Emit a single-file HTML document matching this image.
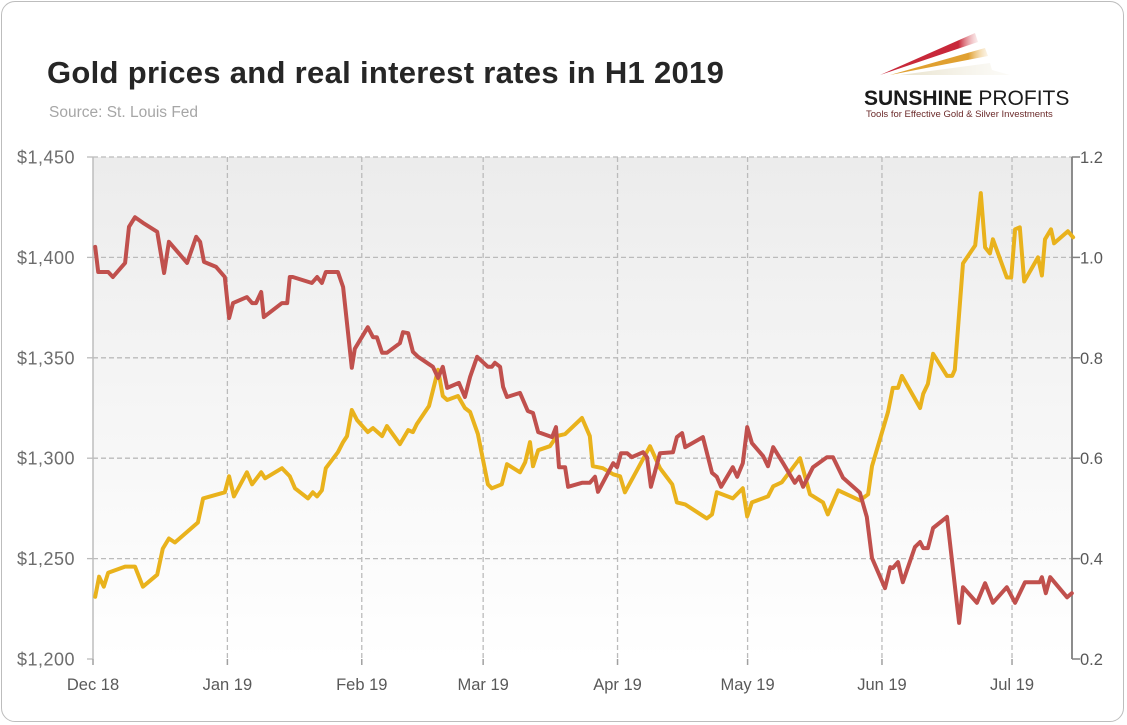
<!DOCTYPE html>
<html><head><meta charset="utf-8">
<style>
html,body{margin:0;padding:0;background:#fff;}
body{width:1127px;height:725px;position:relative;overflow:hidden;font-family:"Liberation Sans",sans-serif;}
#card{position:absolute;left:1px;top:1px;width:1123px;height:721px;border:1px solid #bdbdbd;border-radius:14px;box-sizing:border-box;}
#title{position:absolute;left:47px;top:55px;font-size:31px;font-weight:bold;color:#262626;letter-spacing:0.3px;}
#source{position:absolute;left:49px;top:104px;font-size:15.5px;color:#a6a6a6;}
svg{position:absolute;left:0;top:0;}
</style></head>
<body>
<div id="card"></div>
<div id="title">Gold prices and real interest rates in H1 2019</div>
<div id="source">Source: St. Louis Fed</div>
<svg width="1127" height="725" id="chart">
<defs>
<linearGradient id="bg" x1="0" y1="0" x2="0" y2="1">
<stop offset="0" stop-color="#ececec"/><stop offset="1" stop-color="#ffffff"/>
</linearGradient>
<linearGradient id="fadeR" x1="0" y1="0" x2="1" y2="0"><stop offset="0" stop-color="#c8283a"/><stop offset="0.8" stop-color="#c8283a"/><stop offset="1" stop-color="#f0c0c0" stop-opacity="0.3"/></linearGradient>
<linearGradient id="fadeY" x1="0" y1="0" x2="1" y2="0"><stop offset="0" stop-color="#e0a030"/><stop offset="0.8" stop-color="#e0a030"/><stop offset="1" stop-color="#f5dcb0" stop-opacity="0.3"/></linearGradient>
<linearGradient id="fadeG" x1="0" y1="0" x2="1" y2="0"><stop offset="0" stop-color="#e8e2cc"/><stop offset="1" stop-color="#f4f1e6" stop-opacity="0.3"/></linearGradient>
</defs>
<g>
<polygon points="880,75 975,33 978,42" fill="url(#fadeR)"/>
<polygon points="890,75 985,48 988,56" fill="url(#fadeY)"/>
<polygon points="900,75 990,63 992,70 1010,75" fill="url(#fadeG)"/>
<text x="864" y="105" font-size="21" font-weight="bold" fill="#1a1a1a" font-family="Liberation Sans, sans-serif">SUNSHINE <tspan font-weight="normal">PROFITS</tspan></text>
<text x="866" y="117" font-size="9.5" fill="#6b2a2a" font-family="Liberation Sans, sans-serif">Tools for Effective Gold &amp; Silver Investments</text>
</g>
<rect x="93" y="157" width="979" height="502" fill="url(#bg)"/>
<g id="grid"></g>
<g id="axes"></g>
<g id="series"></g>
</svg>
<script>
const goldDays=[0.5,1.4,2.5,3.5,7.4,9.7,11.5,14.8,16.1,17.5,18.9,24.2,25.4,30.4,31.4,32.5,35.5,36.7,38.8,39.7,43.6,45.4,46.6,49.6,50.7,51.7,52.8,53.7,56.5,57.7,58.6,59.7,60.9,63.4,64.6,66.7,67.8,70.8,72.7,73.8,74.7,77.5,79.6,80.7,81.7,84.2,85.8,87.0,88.8,91.1,92.0,94.3,95.5,98.5,99.7,100.8,101.5,102.7,105.4,107.0,108.9,112.8,114.6,115.3,117.6,120.0,121.6,122.7,125.5,128.5,130.8,133.6,134.7,136.6,141.6,142.8,143.9,147.6,149.9,150.9,152.0,155.7,156.9,158.9,163.1,165.4,168.4,169.5,171.9,176.9,178.8,179.7,183.4,184.5,185.7,186.6,190.8,191.5,192.6,193.8,197.0,198.2,198.8,200.7,203.5,204.8,205.8,206.9,207.6,210.8,211.8,212.7,213.8,214.8,218.0,218.9,219.6,221.0,221.7,224.9,226.1];
const goldValues=[1231,1241,1236,1243,1246,1246,1236,1242,1255,1260,1258,1268,1280,1283,1291,1281,1293,1287,1293,1290,1295,1291,1285,1280,1283,1281,1284,1295,1303,1308,1311,1324,1319,1313,1315,1311,1316,1307,1314,1313,1317,1326,1344,1331,1329,1331,1325,1323,1312,1287,1285,1287,1297,1293,1298,1308,1296,1304,1306,1311,1312,1320,1311,1296,1295,1292,1291,1283,1294,1306,1295,1287,1278,1277,1270,1272,1283,1280,1285,1271,1278,1281,1286,1288,1300,1282,1278,1272,1284,1279,1282,1296,1323,1335,1335,1341,1325,1332,1337,1352,1341,1341,1344,1397,1406,1432,1405,1402,1409,1390,1390,1414,1415,1388,1400,1391,1409,1414,1407,1413,1410];
const rateDays=[0.5,1.2,3.5,4.6,7.4,8.3,9.7,11.5,14.8,16.4,17.5,21.7,23.8,24.7,25.6,28.4,30.4,31.4,32.3,35.5,36.7,37.6,38.8,39.4,43.6,44.8,45.4,46.1,50.5,51.7,52.8,53.7,56.5,57.7,59.7,60.4,63.4,64.6,65.5,66.7,67.8,70.8,71.5,72.7,73.8,75.0,78.4,79.6,80.7,81.7,84.4,85.8,87.0,88.6,91.1,92.0,92.7,93.9,94.6,95.5,98.5,100.3,101.5,102.7,105.9,106.8,107.5,108.9,109.6,112.8,114.6,115.8,116.5,120.0,120.9,121.8,123.2,124.3,126.9,127.8,128.7,130.8,133.8,134.7,135.9,136.6,140.7,142.8,143.9,144.9,147.6,148.6,149.9,150.9,152.0,154.6,155.7,156.9,159.2,161.9,162.9,163.8,166.1,169.3,170.7,173.0,176.9,178.5,179.7,182.7,183.9,184.5,185.7,186.8,189.6,190.8,191.5,192.6,193.8,197.0,199.8,200.7,203.9,205.8,207.6,210.8,212.7,215.0,218.4,218.9,219.8,220.8,224.7,225.8];
const rateValues=[1.021,0.971,0.971,0.961,0.989,1.061,1.080,1.069,1.051,0.969,1.031,0.989,1.041,1.031,0.991,0.981,0.961,0.879,0.909,0.921,0.909,0.909,0.931,0.881,0.909,0.909,0.961,0.961,0.949,0.961,0.949,0.971,0.971,0.941,0.780,0.818,0.861,0.841,0.841,0.810,0.810,0.829,0.851,0.849,0.812,0.802,0.782,0.760,0.782,0.740,0.750,0.722,0.762,0.802,0.782,0.782,0.790,0.782,0.742,0.722,0.730,0.694,0.690,0.652,0.642,0.662,0.582,0.582,0.543,0.551,0.551,0.563,0.533,0.590,0.582,0.610,0.610,0.602,0.612,0.602,0.543,0.610,0.612,0.642,0.650,0.622,0.642,0.571,0.563,0.543,0.582,0.563,0.590,0.662,0.630,0.604,0.584,0.622,0.590,0.551,0.563,0.543,0.582,0.602,0.602,0.561,0.531,0.483,0.401,0.341,0.383,0.381,0.393,0.353,0.423,0.433,0.421,0.421,0.461,0.483,0.272,0.343,0.312,0.351,0.312,0.343,0.312,0.353,0.353,0.363,0.331,0.363,0.323,0.331];
const leftTicks=[1200,1250,1300,1350,1400,1450];
const leftTickLabels=["$1,200","$1,250","$1,300","$1,350","$1,400","$1,450"];
const rightTicks=[0.2,0.4,0.6,0.8,1.0,1.2];
const rightTickLabels=["0.2","0.4","0.6","0.8","1.0","1.2"];
const monthDays=[0,31,62,90,121,151,182,212];
const monthLabels=["Dec 18","Jan 19","Feb 19","Mar 19","Apr 19","May 19","Jun 19","Jul 19"];

const X0=93,X1=1072,Y0=157,Y1=659,PPD=4.335;
const xs=d=>X0+d*PPD;
const yL=v=>Y1-(v-1200)/250*(Y1-Y0);
const yR=v=>Y1-(v-0.2)/1.0*(Y1-Y0);
const NS="http://www.w3.org/2000/svg";
function mk(tag,attrs,parent){const e=document.createElementNS(NS,tag);for(const k in attrs)e.setAttribute(k,attrs[k]);parent.appendChild(e);return e;}
const grid=document.getElementById('grid'),axes=document.getElementById('axes'),series=document.getElementById('series');

leftTicks.forEach((v,i)=>{
  const y=yL(v);
  if(i>0){const g=mk('line',{x1:X0,x2:X1,y1:y,y2:y,stroke:'#bbbbbb','stroke-width':1.3,'stroke-dasharray':'5,3'},grid);
  
  }
  const tk=mk('line',{x1:87,x2:X0,y1:y,y2:y,stroke:'#bbbbbb','stroke-width':1.3},axes);
  
  
  const t=mk('text',{x:75,y:y+6.5,'text-anchor':'end','font-size':18,'letter-spacing':0.5,fill:'#6d6d6d','font-family':'Liberation Sans, sans-serif'},axes);
  t.textContent=leftTickLabels[i];
  
  
});
rightTicks.forEach((v,i)=>{
  const y=yR(v);
  const tk=mk('line',{x1:X1,x2:X1+8,y1:y,y2:y,stroke:'#808080','stroke-width':1.5},axes);
  
  
  const t=mk('text',{x:X1+8,y:y+6,'font-size':16.5,fill:'#595959','font-family':'Liberation Sans, sans-serif'},axes);
  t.textContent=rightTickLabels[i];
  
  
});
monthDays.forEach((d,i)=>{
  const x=xs(d);
  if(i>0){const g=mk('line',{x1:x,x2:x,y1:Y0,y2:Y1,stroke:'#bbbbbb','stroke-width':1.3,'stroke-dasharray':'5,3'},grid);
  
  }
  const tk=mk('line',{x1:x,x2:x,y1:Y1,y2:Y1+6,stroke:'#a0a0a0','stroke-width':1.5},axes);
  
  
  const t=mk('text',{x:x,y:690,'text-anchor':'middle','font-size':16.5,fill:'#595959','font-family':'Liberation Sans, sans-serif'},axes);
  t.textContent=monthLabels[i];
  
  
});
const la=mk('line',{x1:X0,x2:X0,y1:Y0,y2:Y1,stroke:'#bdbdbd','stroke-width':1.5},axes);


const ra=mk('line',{x1:X1,x2:X1,y1:Y0,y2:Y1,stroke:'#808080','stroke-width':1.8},axes);



const gp=mk('polyline',{points:goldDays.map((d,i)=>xs(d).toFixed(1)+','+yL(goldValues[i]).toFixed(1)).join(' '),fill:'none',stroke:'#e9b21c','stroke-width':4,'stroke-linejoin':'round','stroke-linecap':'round'},series);


const rp=mk('polyline',{points:rateDays.map((d,i)=>xs(d).toFixed(1)+','+yR(rateValues[i]).toFixed(1)).join(' '),fill:'none',stroke:'#c0504d','stroke-width':4,'stroke-linejoin':'round','stroke-linecap':'round'},series);


</script>
</body></html>
